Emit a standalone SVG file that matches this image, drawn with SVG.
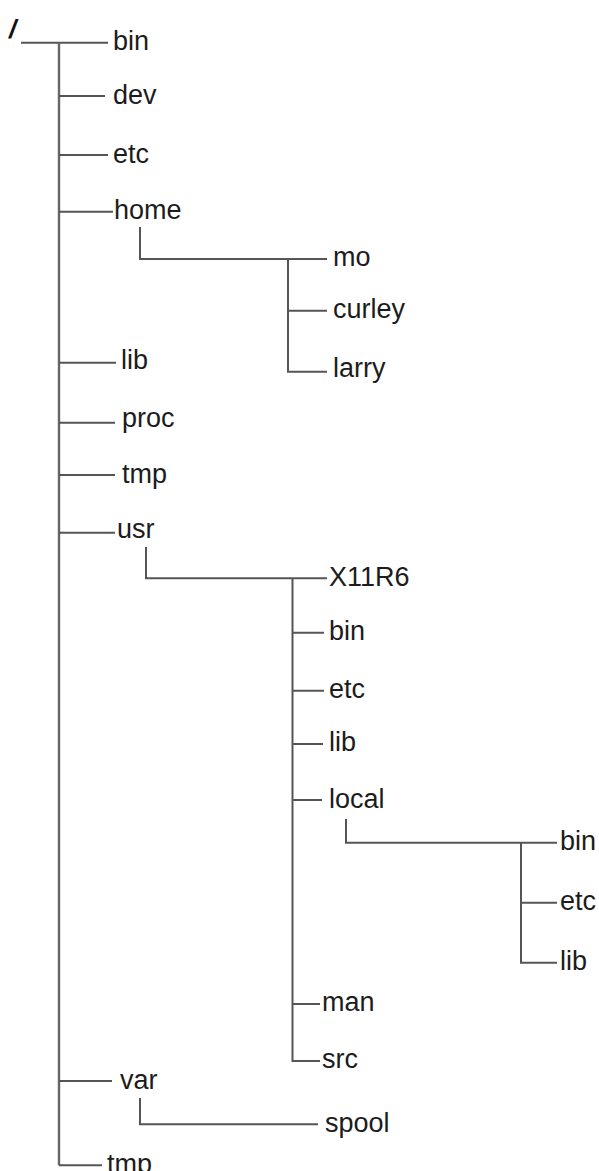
<svg xmlns="http://www.w3.org/2000/svg" width="599" height="1171" viewBox="0 0 599 1171">
<style>
.c{fill:none;stroke:#555;stroke-width:2}
.m{stroke-width:2.4;stroke:#666}
text{font-family:"Liberation Sans",Arial,sans-serif;font-size:27px;fill:#1c1c1c}
.r{font-weight:bold;font-style:italic;font-size:26px;fill:#111}
</style>
<rect width="599" height="1171" fill="#fff"/>
<g id="connectors">
<path class="c" d="M21,42.7H108"/>
<path class="c m" d="M59,42.7V1165.3"/>
<path class="c" d="M59,96H105M59,155H108M59,211.7H113M59,362.7H116M59,422.7H115M59,475H115M59,532.7H115M59,1081H112M59,1165.3H102"/>
<path class="c" d="M140,227V259H327M288,259V371.7H327M287,310.7H327"/>
<path class="c" d="M146,547V578.3H327M292.5,578.3V1061H320M292.5,632.7H324M292.5,690.7H324M292.5,744H323M292.5,800H322M292.5,1004H320"/>
<path class="c" d="M346,819V842.7H557M521,842.7V962.7H557M521,902.7H557"/>
<path class="c" d="M140,1098V1124.3H318"/>
</g>
<g id="root"><text class="r" x="9" y="38">/</text></g>
<g id="bin"><text x="113" y="50">bin</text></g>
<g id="dev"><text x="113" y="104">dev</text></g>
<g id="etc"><text x="113" y="163">etc</text></g>
<g id="home"><text x="114" y="219">home</text></g>
<g id="mo"><text x="333" y="266">mo</text></g>
<g id="curley"><text x="333" y="318">curley</text></g>
<g id="larry"><text x="333" y="377">larry</text></g>
<g id="lib"><text x="121" y="369">lib</text></g>
<g id="proc"><text x="122" y="427">proc</text></g>
<g id="tmp"><text x="122" y="483">tmp</text></g>
<g id="usr"><text x="117" y="538">usr</text></g>
<g id="X11R6"><text x="329" y="586">X11R6</text></g>
<g id="usr-bin"><text x="329" y="640">bin</text></g>
<g id="usr-etc"><text x="329" y="698">etc</text></g>
<g id="usr-lib"><text x="329" y="751">lib</text></g>
<g id="local"><text x="329" y="808">local</text></g>
<g id="local-bin"><text x="560" y="850">bin</text></g>
<g id="local-etc"><text x="560" y="910">etc</text></g>
<g id="local-lib"><text x="560" y="970">lib</text></g>
<g id="man"><text x="322" y="1011">man</text></g>
<g id="src"><text x="322" y="1068">src</text></g>
<g id="var"><text x="120" y="1089">var</text></g>
<g id="spool"><text x="325" y="1132">spool</text></g>
<g id="tmp2"><text x="107" y="1173">tmp</text></g>
</svg>
